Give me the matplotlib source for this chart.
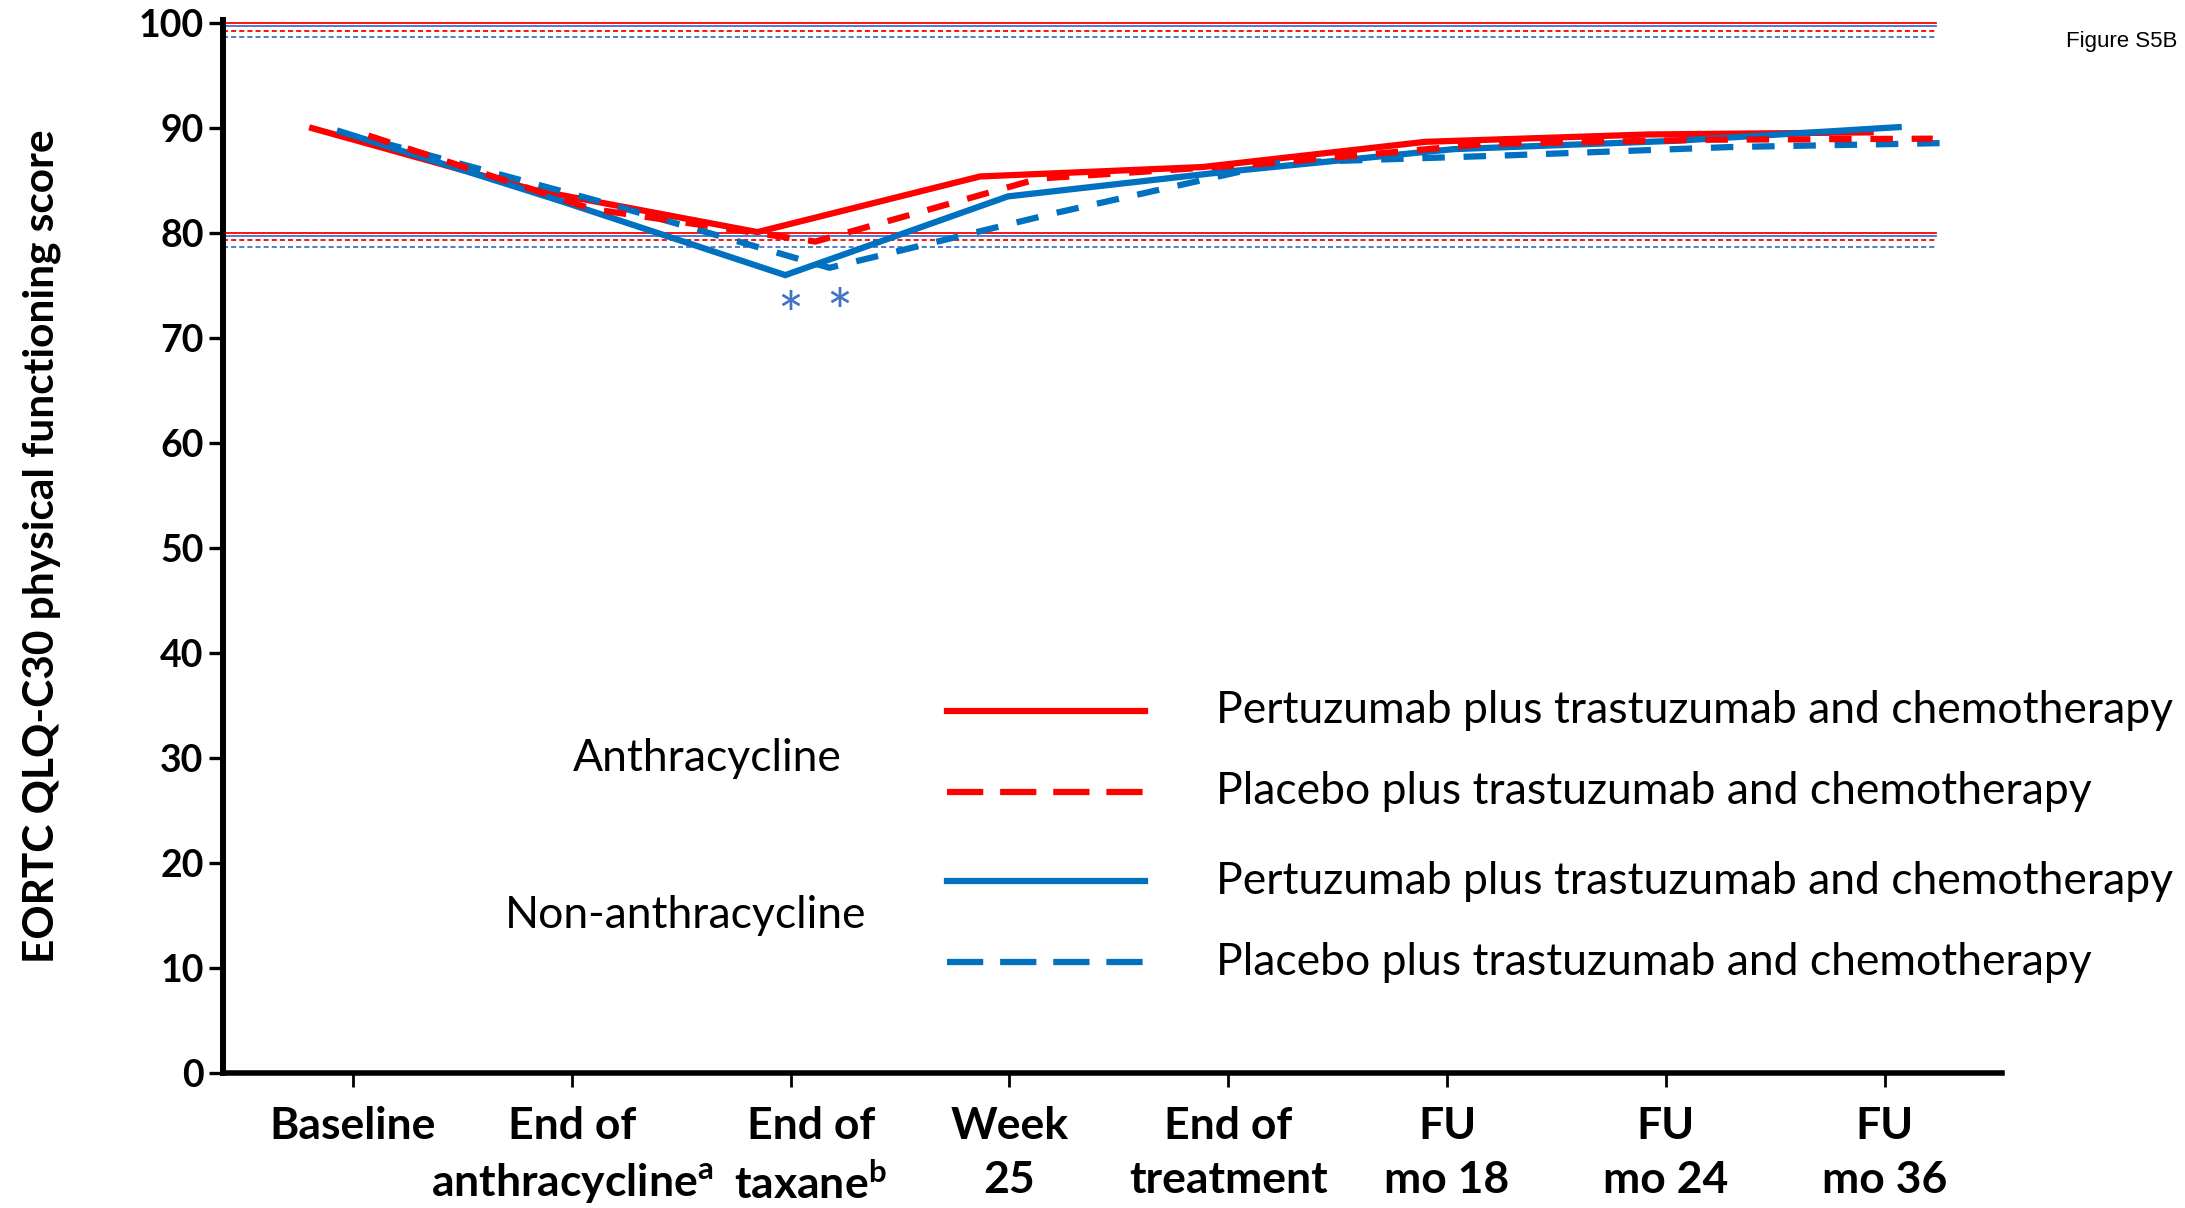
import matplotlib
matplotlib.use('Agg')
from matplotlib import pyplot as plt
from matplotlib.transforms import ScaledTranslation

plt.rcParams['font.family'] = ['Lato', 'DejaVu Sans']
plt.rcParams['mathtext.fontset'] = 'custom'
plt.rcParams['mathtext.rm'] = 'Lato'
plt.rcParams['mathtext.bf'] = 'Lato:bold'

# time points on the x axis
timepoints = ['Baseline', 'End of\nanthracycline$^{\\mathbf{a}}$', 'End of\ntaxane$^{\\mathbf{b}}$',
              'Week\n25', 'End of\ntreatment', 'FU\nmo 18', 'FU\nmo 24', 'FU\nmo 36']

# mean scores
anth_pertuzumab = [90.0, 84.1, 80.1, 85.4, 86.3, 88.7, 89.4, 89.6]
anth_placebo = [89.3, 82.3, 79.2, 85.2, 86.6, 88.5, 88.9, 89.0]
non_anth_pertuzumab = [89.7, 83.0, 76.0, 83.5, 85.9, 88.0, 88.8, 90.1]
non_anth_placebo = [88.7, 82.9, 76.7, 81.9, 86.7, 87.4, 88.2, 88.6]

legend_labels = ['Pertuzumab plus trastuzumab and chemotherapy',
                 'Placebo plus trastuzumab and chemotherapy',
                 'Pertuzumab plus trastuzumab and chemotherapy',
                 'Placebo plus trastuzumab and chemotherapy']
group_labels = ['Anthracycline', 'Non-anthracycline']

RED = '#FF0000'
BLUE = '#0070C0'
LIGHT_BLUE = '#4472C4'
DASH = (0, (3.6, 3.0))
LEG_DASH = (0, (5.8, 2.7))


def dodge(n, start, end):
    """ small horizontal shift per series, like in the original figure """
    return [i + start + (end - start) * i / (n - 1) for i in range(n)]


fig = plt.figure(figsize=(21.85, 12.08), dpi=100)
ax = fig.add_axes([0.1021, 0.1118, 0.8142, 0.8716])

series = [
    (anth_pertuzumab, RED, '-', RED, '-', -0.187, -0.064),
    (non_anth_pertuzumab, BLUE, '-', LIGHT_BLUE, '-', -0.06, 0.064),
    (non_anth_placebo, BLUE, DASH, LIGHT_BLUE, (0, (2.8, 1.7)), 0.12, 0.32),
    (anth_placebo, RED, DASH, RED, (0, (2.8, 1.7)), 0.07, 0.22),
]

# +/- 10 point lines around each baseline
for values, color, ls, ref_color, ref_ls, d0, d1 in series:
    for ref in (values[0] + 10, values[0] - 10):
        ax.axhline(ref, xmin=0, xmax=0.963, color=ref_color, lw=1.3, linestyle=ref_ls, zorder=1)

for values, color, ls, ref_color, ref_ls, d0, d1 in series:
    xs = dodge(len(values), d0, d1)
    ax.plot(xs, values, color=color, lw=4.5, linestyle=ls, solid_joinstyle='miter', zorder=3)

# significance markers at end of taxane (non-anthracycline)
for xpos, dy in [(2.0, 4.2), (2.22, 3.9)]:
    ax.text(xpos, non_anth_pertuzumab[2] - dy, '*', color=LIGHT_BLUE, fontsize=44,
            ha='center', va='center')

# hand-drawn legend
leg_y = [0.344, 0.267, 0.182, 0.105]
leg_style = [(RED, '-'), (RED, LEG_DASH), (BLUE, '-'), (BLUE, LEG_DASH)]
for y, (color, ls), label in zip(leg_y, leg_style, legend_labels):
    ax.plot([0.407, 0.518], [y, y], color=color, lw=4.5, linestyle=ls,
            transform=ax.transAxes, clip_on=False)
    ax.text(0.558, y, label, transform=ax.transAxes, fontsize=32, va='center', ha='left')
ax.text(0.272, 0.299, group_labels[0], transform=ax.transAxes, fontsize=32, va='center', ha='center')
ax.text(0.260, 0.150, group_labels[1], transform=ax.transAxes, fontsize=32, va='center', ha='center')

ax.set_xlim(-0.594, 7.537)
ax.set_ylim(0, 100.3)
ax.set_xticks(range(len(timepoints)))
ax.set_xticklabels(timepoints, fontsize=32, fontweight='bold', linespacing=1.42)
ax.set_yticks(range(0, 101, 10))
ax.tick_params(axis='y', labelsize=27, width=2.4, length=10, pad=4)
ax.tick_params(axis='x', width=2, length=10, pad=14)
for lab in ax.get_yticklabels():
    lab.set_fontweight('bold')

# the taxane label sits a little right of its tick in the original
lab = ax.get_xticklabels()[2]
lab.set_transform(lab.get_transform() + ScaledTranslation(0.2, 0, fig.dpi_scale_trans))

ax.spines['top'].set_visible(False)
ax.spines['right'].set_visible(False)
ax.spines['left'].set_linewidth(4.3)
ax.spines['bottom'].set_linewidth(4)

ax.set_ylabel('EORTC QLQ-C30 physical functioning score', fontsize=30.5, fontweight='bold', labelpad=56)

fig.text(0.9963, 0.966, 'Figure S5B', family='Liberation Sans', fontsize=16, ha='right', va='center')

fig.savefig('out.png', dpi=100)
